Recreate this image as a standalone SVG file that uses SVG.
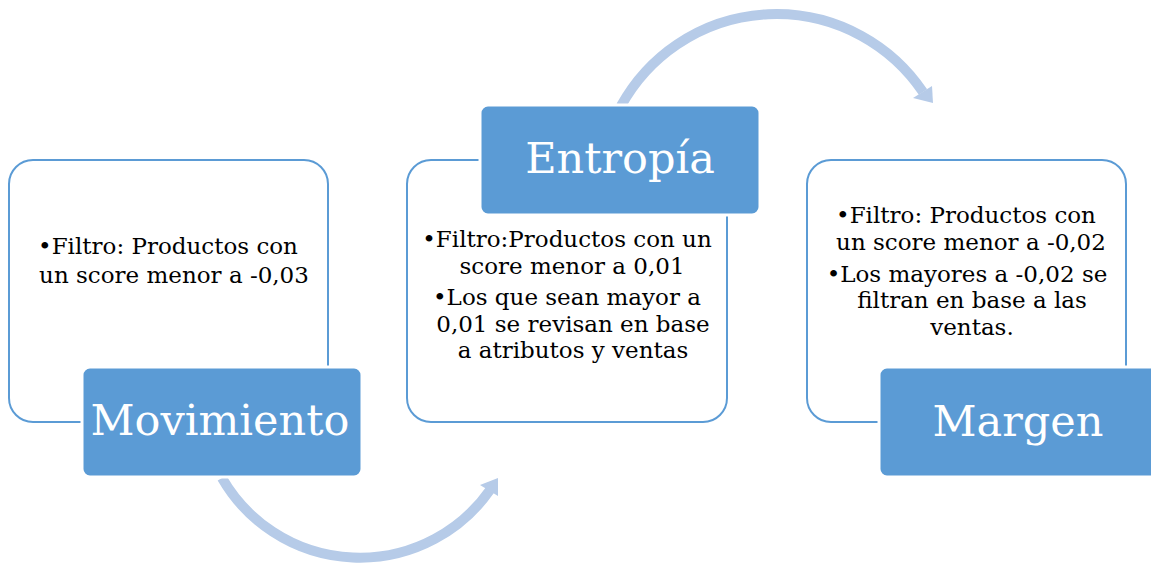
<svg xmlns="http://www.w3.org/2000/svg" width="1151" height="564" viewBox="0 0 1151 564">
<style>
.outline{fill:#ffffff;stroke:#5b9bd5;stroke-width:2}
.label{fill:#5b9bd5;stroke:#ffffff;stroke-width:3}
.ltxt{font-family:"DejaVu Serif","Liberation Serif",serif;font-size:43px;fill:#ffffff;text-anchor:middle}
.btxt{font-family:"DejaVu Serif","Liberation Serif",serif;font-size:23px;fill:#000000;text-anchor:middle}
.arc{fill:none;stroke:#b6cbe8;stroke-width:10}
.head{fill:#b6cbe8}
</style>
<rect width="1151" height="564" fill="#ffffff"/>
<g id="connectors">
<path class="arc" d="M222,478 A159,159 0 0 0 490,490"/>
<polygon class="head" points="480,485 498,478 498,496"/>
<path class="arc" d="M621,106 A177,177 0 0 1 923,92"/>
<polygon class="head" points="913,98 932,86 933,103"/>
</g>
<g id="movimiento">
<rect class="outline" x="9" y="160" width="319" height="262" rx="24"/>
<text class="btxt" x="168" y="254">•Filtro: Productos con</text>
<text class="btxt" x="174" y="283">un score menor a -0,03</text>
<rect class="label" x="82" y="367" width="280" height="110" rx="8"/>
<text class="ltxt" x="220" y="435">Movimiento</text>
</g>
<g id="entropia">
<rect class="outline" x="407" y="160" width="320" height="262" rx="24"/>
<text class="btxt" x="567" y="247">•Filtro:Productos con un</text>
<text class="btxt" x="572" y="274">score menor a 0,01</text>
<text class="btxt" x="567" y="305">•Los que sean mayor a</text>
<text class="btxt" x="573" y="332">0,01 se revisan en base</text>
<text class="btxt" x="573" y="358">a atributos y ventas</text>
<rect class="label" x="480" y="105" width="280" height="110" rx="8"/>
<text class="ltxt" x="620" y="173">Entropía</text>
</g>
<g id="margen">
<rect class="outline" x="807" y="160" width="319" height="262" rx="24"/>
<text class="btxt" x="966" y="223">•Filtro: Productos con</text>
<text class="btxt" x="971" y="250">un score menor a -0,02</text>
<text class="btxt" x="967" y="282">•Los mayores a -0,02 se</text>
<text class="btxt" x="972" y="308">filtran en base a las</text>
<text class="btxt" x="972" y="335">ventas.</text>
<rect class="label" x="879" y="367" width="282" height="110" rx="8"/>
<text class="ltxt" x="1018" y="436">Margen</text>
</g>
</svg>
